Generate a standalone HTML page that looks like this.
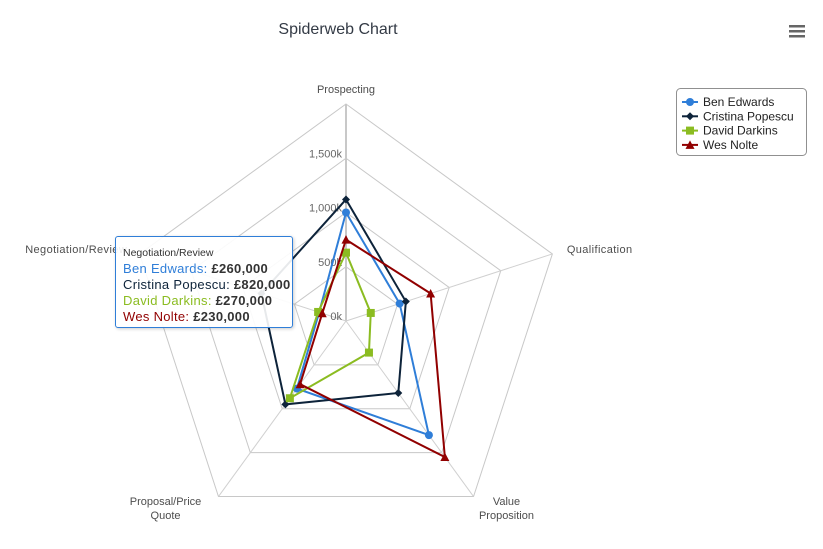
<!DOCTYPE html>
<html><head><meta charset="utf-8"><style>
body{margin:0;background:#fff;font-family:"Liberation Sans",sans-serif;}
svg{display:block}
#tt{position:absolute;left:115px;top:236px;width:178px;height:92px;border:1px solid #2f7ed8;border-radius:3px;background:rgba(255,255,255,0.9);box-shadow:1px 1px 3px rgba(0,0,0,0.2);font-size:13px;letter-spacing:0.3px;line-height:16px;padding:9px 0 0 7px;box-sizing:border-box;color:#333}
#tt .h{font-size:10.5px;line-height:14px;margin-bottom:1px;letter-spacing:0}
#tt b{color:#333}
</style></head><body>
<div style="position:relative;width:823px;height:549px;overflow:hidden">
<svg id="c" width="823" height="549">
<text x="338" y="34" text-anchor="middle" font-size="16" fill="#333a45">Spiderweb Chart</text>
<g>
<rect x="789" y="25" width="16" height="2.5" fill="#666"/><rect x="789" y="30" width="16" height="2.5" fill="#666"/><rect x="789" y="35" width="16" height="2.5" fill="#666"/>
</g>
<g id="grid"></g><g id="series"></g>
<g>
<rect x="676.5" y="88.5" width="130" height="67" rx="4" fill="#fff" stroke="#909090"/>
<g id="legend"></g>
</g>
</svg>
<div id="tt">
<div class="h">Negotiation/Review</div>
<div><span style="color:#2f7ed8">Ben Edwards: </span><b>£260,000</b></div>
<div><span style="color:#0d233a">Cristina Popescu: </span><b>£820,000</b></div>
<div><span style="color:#8bbc21">David Darkins: </span><b>£270,000</b></div>
<div><span style="color:#910000">Wes Nolte: </span><b>£230,000</b></div>
</div>
</div>
<script>
const categories=["Prospecting","Qualification","Value Proposition","Proposal/Price Quote","Negotiation/Review"];
const seriesNames=["Ben Edwards","Cristina Popescu","David Darkins","Wes Nolte"];
const benValues=[1000,520,1300,770,260];
const cristinaValues=[1120,580,820,950,820];
const davidValues=[630,240,360,880,270];
const wesValues=[750,820,1550,720,230];
const yTicks=[0,500,1000,1500];
const yTickLabels=["0k","500k","1,000k","1,500k"];
const yMax=2000;
const colors=["#2f7ed8","#0d233a","#8bbc21","#910000"];
const markers=["circle","diamond","square","triangle"];
const allValues=[benValues,cristinaValues,davidValues,wesValues];
const NS="http://www.w3.org/2000/svg";
const cx=346,cy=321,R=217;
function ang(i){return (i*72-90)*Math.PI/180;}
function pt(i,v){const r=v/yMax*R;return [cx+r*Math.cos(ang(i)),cy+r*Math.sin(ang(i))];}
function mk(tag,attrs,parent){const e=document.createElementNS(NS,tag);for(const k in attrs)e.setAttribute(k,attrs[k]);parent.appendChild(e);return e;}
const grid=document.getElementById('grid');
[...yTicks.slice(1),yMax].forEach((t,k)=>{
  const pts=categories.map((c,i)=>pt(i,t).join(',')).join(' ');
  const p=mk('polygon',{points:pts,fill:'none',stroke:'#c8c8c8','stroke-width':1},grid);
  
  
});
categories.forEach((c,i)=>{
  const [x,y]=pt(i,yMax);
  const l=mk('line',{x1:cx,y1:cy,x2:x,y2:y,stroke:i==0?'#c8c8c8':'#d0d0d0','stroke-width':i==0?2:1},grid);
  
  
  const [lx,ly]=pt(i,yMax*1.07);
  const anchor=Math.abs(lx-cx)<5?'middle':(lx>cx?'start':'end');
  const t=mk('text',{x:i==2||i==3?lx+(i==2?24:-44):(i==4?lx+2:lx),y:ly+4,'text-anchor':(i==2||i==3)?'middle':anchor,'font-size':11,fill:'#4d4d4d','letter-spacing':(i==4||i==1)?0.4:0},grid);
  
  
  if(i==2||i==3){const w=c.split(i==2?' ':'/');
    const a=mk('tspan',{x:t.getAttribute('x'),dy:-8},t);a.textContent=i==2?w[0]:'Proposal/Price';
    const b=mk('tspan',{x:t.getAttribute('x'),dy:14},t);b.textContent=i==2?w[1]:'Quote';
  } else t.textContent=c;
});
yTicks.forEach((v,k)=>{
  const [x,y]=pt(0,v);
  const t=mk('text',{x:x-4,y:y-1,'text-anchor':'end','font-size':11,fill:'#666'},grid);
  
  
  t.textContent=yTickLabels[k];
});
function marker(parent,type,x,y,col){
  let e;
  if(type=='circle')e=mk('circle',{cx:x,cy:y,r:4,fill:col},parent);
  else if(type=='diamond')e=mk('polygon',{points:`${x},${y-4} ${x+4},${y} ${x},${y+4} ${x-4},${y}`,fill:col},parent);
  else if(type=='square')e=mk('rect',{x:x-4,y:y-4,width:8,height:8,fill:col},parent);
  else e=mk('polygon',{points:`${x},${y-4.5} ${x+4.5},${y+4} ${x-4.5},${y+4}`,fill:col},parent);
  return e;
}
const sg=document.getElementById('series');
allValues.forEach((vals,s)=>{
  const g=mk('g',{},sg);
  
  
  const pts=vals.map((v,i)=>pt(i,v).join(',')).join(' ');
  const p=mk('polygon',{points:pts,fill:'none',stroke:colors[s],'stroke-width':2},g);
  
  
  vals.forEach((v,i)=>{const [x,y]=pt(i,v);const m=marker(g,markers[s],x,y,colors[s]);
    
    });
});
const lg=document.getElementById('legend');
seriesNames.forEach((n,s)=>{
  const y=102+s*14.3;
  const g=mk('g',{},lg);
  
  
  mk('line',{x1:682,y1:y,x2:698,y2:y,stroke:colors[s],'stroke-width':2},g);
  marker(g,markers[s],690,y,colors[s]);
  const t=mk('text',{x:703,y:y+4,'font-size':12,fill:'#222'},g);
  t.textContent=n;
});
</script>
</body></html>
